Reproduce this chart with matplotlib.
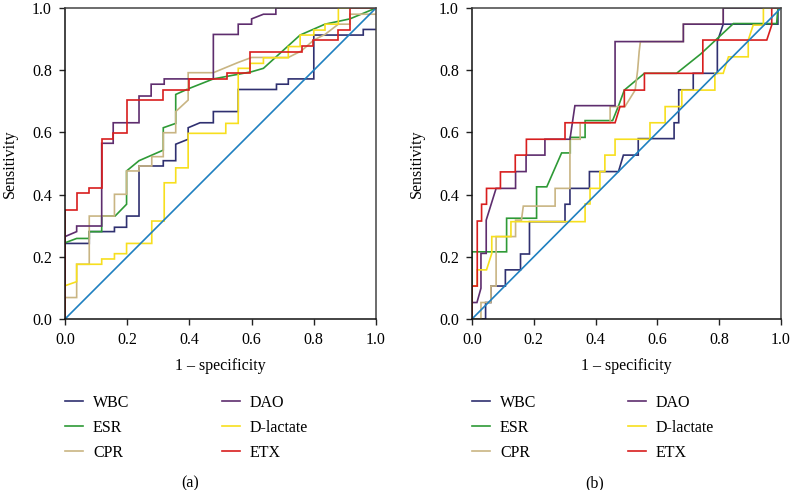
import matplotlib
matplotlib.use("Agg")
import matplotlib.pyplot as plt

plt.rcParams['font.family'] = ['Liberation Serif', 'DejaVu Serif']

series_names = ["WBC", "ESR", "CPR", "DAO", "D-lactate", "ETX"]
series_colors = ["#2f3070", "#2e9a36", "#c9b583", "#5e2d6e", "#f7df1e", "#d81e1e"]
diag_color = "#1f80c0"
tick_values = [0.0, 0.2, 0.4, 0.6, 0.8, 1.0]
tick_labels = ["0.0", "0.2", "0.4", "0.6", "0.8", "1.0"]
xlabel_text = "1 \u2013 specificity"
ylabel_text = "Sensitivity"
panel_labels = ["(a)", "(b)"]

# ---------------- Panel (a) ----------------
wbc_a_fpr = [0, 0, 0.078, 0.078, 0.159, 0.159, 0.198, 0.198, 0.238, 0.238, 0.316, 0.316, 0.356, 0.356, 0.396, 0.396, 0.434, 0.477, 0.477, 0.557, 0.557, 0.68, 0.68, 0.718, 0.718, 0.8, 0.8, 0.959, 0.959, 1.0]
wbc_a_tpr = [0, 0.243, 0.243, 0.281, 0.281, 0.295, 0.295, 0.331, 0.331, 0.492, 0.492, 0.509, 0.509, 0.562, 0.578, 0.615, 0.631, 0.631, 0.667, 0.667, 0.738, 0.738, 0.755, 0.755, 0.772, 0.772, 0.913, 0.913, 0.931, 0.931]

esr_a_fpr = [0, 0, 0.0375, 0.078, 0.078, 0.118, 0.118, 0.161, 0.198, 0.198, 0.238, 0.316, 0.316, 0.356, 0.356, 0.396, 0.477, 0.6, 0.638, 0.756, 0.836, 0.916, 1.0]
esr_a_tpr = [0, 0.245, 0.259, 0.259, 0.281, 0.281, 0.331, 0.331, 0.369, 0.476, 0.509, 0.543, 0.615, 0.629, 0.722, 0.74, 0.772, 0.795, 0.806, 0.913, 0.948, 0.965, 1.0]

cpr_a_fpr = [0, 0, 0.0375, 0.0375, 0.078, 0.078, 0.159, 0.159, 0.198, 0.198, 0.238, 0.238, 0.279, 0.279, 0.316, 0.316, 0.356, 0.356, 0.396, 0.396, 0.477, 0.557, 0.6, 0.718, 0.76, 0.8, 0.836, 0.879, 0.916, 0.916, 1.0]
cpr_a_tpr = [0, 0.069, 0.069, 0.176, 0.176, 0.331, 0.331, 0.401, 0.401, 0.476, 0.476, 0.492, 0.492, 0.522, 0.522, 0.599, 0.599, 0.667, 0.704, 0.792, 0.792, 0.825, 0.841, 0.841, 0.862, 0.897, 0.915, 0.948, 0.948, 0.98, 0.98]

dao_a_fpr = [0, 0, 0.0375, 0.0375, 0.118, 0.118, 0.155, 0.155, 0.238, 0.238, 0.277, 0.277, 0.319, 0.319, 0.477, 0.477, 0.557, 0.557, 0.6, 0.6, 0.638, 0.678, 0.678, 1.0]
dao_a_tpr = [0, 0.265, 0.281, 0.299, 0.299, 0.565, 0.565, 0.631, 0.631, 0.717, 0.717, 0.755, 0.755, 0.772, 0.772, 0.915, 0.915, 0.948, 0.948, 0.965, 0.98, 0.98, 1.0, 1.0]

dlac_a_fpr = [0, 0, 0.0375, 0.0375, 0.118, 0.118, 0.159, 0.159, 0.198, 0.198, 0.279, 0.279, 0.319, 0.319, 0.356, 0.356, 0.396, 0.396, 0.517, 0.517, 0.557, 0.557, 0.595, 0.595, 0.638, 0.638, 0.718, 0.718, 0.756, 0.756, 0.8, 0.8, 0.836, 0.836, 0.879, 0.879, 1.0]
dlac_a_tpr = [0, 0.107, 0.12, 0.176, 0.176, 0.193, 0.193, 0.21, 0.21, 0.243, 0.243, 0.315, 0.315, 0.438, 0.438, 0.486, 0.486, 0.597, 0.597, 0.629, 0.629, 0.806, 0.806, 0.822, 0.822, 0.84, 0.84, 0.876, 0.876, 0.913, 0.913, 0.929, 0.929, 0.948, 0.948, 1.0, 1.0]

etx_a_fpr = [0, 0, 0.0375, 0.0375, 0.078, 0.078, 0.118, 0.118, 0.155, 0.155, 0.198, 0.198, 0.316, 0.316, 0.399, 0.399, 0.52, 0.52, 0.595, 0.595, 0.761, 0.761, 0.798, 0.798, 0.879, 0.879, 0.916, 0.916, 1.0]
etx_a_tpr = [0, 0.35, 0.35, 0.404, 0.404, 0.42, 0.42, 0.578, 0.578, 0.597, 0.597, 0.704, 0.704, 0.736, 0.736, 0.772, 0.772, 0.79, 0.79, 0.86, 0.86, 0.878, 0.878, 0.897, 0.897, 0.929, 0.929, 1.0, 1.0]

# ---------------- Panel (b) ----------------
wbc_b_fpr = [0, 0.044, 0.044, 0.061, 0.061, 0.108, 0.108, 0.157, 0.157, 0.186, 0.186, 0.301, 0.301, 0.317, 0.317, 0.38, 0.38, 0.474, 0.49, 0.538, 0.538, 0.654, 0.654, 0.669, 0.669, 0.716, 0.716, 0.794, 0.794, 0.813, 0.99, 0.99, 1.0]
wbc_b_tpr = [0, 0, 0.053, 0.053, 0.106, 0.106, 0.158, 0.158, 0.209, 0.209, 0.313, 0.313, 0.369, 0.369, 0.42, 0.42, 0.474, 0.474, 0.527, 0.527, 0.58, 0.58, 0.631, 0.631, 0.737, 0.737, 0.79, 0.79, 0.892, 0.948, 0.948, 1.0, 1.0]

esr_b_fpr = [0, 0, 0.112, 0.112, 0.209, 0.209, 0.242, 0.29, 0.318, 0.318, 0.366, 0.366, 0.455, 0.474, 0.493, 0.558, 0.662, 0.74, 0.846, 0.986, 0.99, 1.0]
esr_b_tpr = [0, 0.216, 0.216, 0.324, 0.324, 0.425, 0.425, 0.534, 0.534, 0.584, 0.584, 0.638, 0.638, 0.685, 0.736, 0.79, 0.79, 0.852, 0.95, 0.95, 1.0, 1.0]

cpr_b_fpr = [0, 0.029, 0.029, 0.061, 0.061, 0.078, 0.078, 0.141, 0.141, 0.16, 0.166, 0.269, 0.269, 0.317, 0.317, 0.35, 0.35, 0.447, 0.447, 0.495, 0.528, 0.536, 0.541, 0.545, 0.684, 0.684, 0.813, 0.813, 1.0]
cpr_b_tpr = [0, 0, 0.053, 0.053, 0.106, 0.106, 0.265, 0.265, 0.318, 0.318, 0.363, 0.363, 0.42, 0.42, 0.578, 0.578, 0.631, 0.631, 0.683, 0.683, 0.736, 0.8, 0.86, 0.892, 0.892, 0.948, 0.948, 1.0, 1.0]

dao_b_fpr = [0, 0, 0.016, 0.029, 0.029, 0.046, 0.046, 0.078, 0.141, 0.141, 0.175, 0.175, 0.236, 0.236, 0.317, 0.333, 0.463, 0.463, 0.684, 0.684, 0.813, 0.813, 1.0]
dao_b_tpr = [0, 0.053, 0.053, 0.099, 0.211, 0.211, 0.318, 0.42, 0.42, 0.474, 0.474, 0.527, 0.527, 0.578, 0.578, 0.686, 0.686, 0.892, 0.892, 0.948, 0.948, 1.0, 1.0]

dlac_b_fpr = [0, 0, 0.017, 0.017, 0.047, 0.064, 0.064, 0.126, 0.126, 0.366, 0.366, 0.382, 0.382, 0.414, 0.414, 0.43, 0.43, 0.463, 0.463, 0.576, 0.576, 0.625, 0.625, 0.679, 0.679, 0.786, 0.786, 0.813, 0.83, 0.894, 0.894, 0.91, 0.943, 0.943, 1.0]
dlac_b_tpr = [0, 0.106, 0.106, 0.158, 0.158, 0.211, 0.265, 0.265, 0.313, 0.313, 0.37, 0.37, 0.42, 0.42, 0.474, 0.474, 0.527, 0.527, 0.578, 0.578, 0.631, 0.631, 0.683, 0.683, 0.736, 0.736, 0.79, 0.79, 0.843, 0.843, 0.897, 0.945, 0.945, 1.0, 1.0]

etx_b_fpr = [0, 0, 0.017, 0.017, 0.031, 0.031, 0.047, 0.047, 0.092, 0.092, 0.14, 0.14, 0.176, 0.176, 0.301, 0.301, 0.463, 0.479, 0.493, 0.493, 0.558, 0.558, 0.747, 0.747, 0.954, 0.97, 0.97, 1.0]
etx_b_tpr = [0, 0.106, 0.106, 0.315, 0.315, 0.369, 0.369, 0.42, 0.42, 0.473, 0.473, 0.527, 0.527, 0.578, 0.578, 0.631, 0.631, 0.683, 0.683, 0.736, 0.736, 0.79, 0.79, 0.897, 0.897, 0.945, 1.0, 1.0]

diag_x = [0.0, 1.0]
diag_y = [0.0, 1.0]

panel_a = [(wbc_a_fpr, wbc_a_tpr), (esr_a_fpr, esr_a_tpr), (cpr_a_fpr, cpr_a_tpr),
           (dao_a_fpr, dao_a_tpr), (dlac_a_fpr, dlac_a_tpr), (etx_a_fpr, etx_a_tpr)]
panel_b = [(wbc_b_fpr, wbc_b_tpr), (esr_b_fpr, esr_b_tpr), (cpr_b_fpr, cpr_b_tpr),
           (dao_b_fpr, dao_b_tpr), (dlac_b_fpr, dlac_b_tpr), (etx_b_fpr, etx_b_tpr)]

W, H = 791, 490
fig = plt.figure(figsize=(W / 100, H / 100), dpi=100)

FS = 11.5
axes_px = [(65, 376), (472, 781)]
top_px, bot_px = 8, 319
legend_cols_px = [(65, 222), (472, 628)]
legend_top_px = 395
panel_label_px = [(190, 483), (595, 483)]

for pi, (data, (l, r)) in enumerate(zip([panel_a, panel_b], axes_px)):
    ax = fig.add_axes([l / W, 1 - bot_px / H, (r - l) / W, (bot_px - top_px) / H])
    handles = []
    for (xs, ys), name, col in zip(data, series_names, series_colors):
        h, = ax.plot(xs, ys, color=col, lw=1.2, label=name, solid_joinstyle='miter')
        handles.append(h)
    ax.plot(diag_x, diag_y, color=diag_color, lw=1.2)
    ax.set_xlim(0, 1)
    ax.set_ylim(0, 1)
    ax.set_xticks(tick_values)
    ax.set_xticklabels(tick_labels)
    ax.set_yticks(tick_values)
    ax.set_yticklabels(tick_labels)
    ax.tick_params(direction='out', length=4.5, width=1.0, labelsize=FS, pad=5, color='#222222')
    for side in ['left', 'bottom']:
        ax.spines[side].set_color('#111111')
        ax.spines[side].set_linewidth(1.1)
    for side in ['top', 'right']:
        ax.spines[side].set_color('#444444')
        ax.spines[side].set_linewidth(1.1)
    ax.set_xlabel(xlabel_text, fontsize=FS)
    ax.xaxis.set_label_coords(0.5, -(358 - bot_px) / (bot_px - top_px))
    ax.set_ylabel(ylabel_text, fontsize=FS)
    ax.yaxis.set_label_coords(-(65 - 18) / 311, 0.5)

    c1, c2 = legend_cols_px[pi]
    for cx, hs, names in [(c1, handles[:3], series_names[:3]), (c2, handles[3:], series_names[3:])]:
        leg = fig.legend(hs, names, loc='upper left',
                         bbox_to_anchor=(cx / W, 1 - legend_top_px / H), frameon=False,
                         fontsize=FS, borderpad=0, borderaxespad=0, handlelength=1.15,
                         handletextpad=0.6, labelspacing=0.56)
    px, py = panel_label_px[pi]
    fig.text(px / W, 1 - py / H, panel_labels[pi], ha='center', va='center', fontsize=FS)

fig.savefig("out.png", dpi=100)
